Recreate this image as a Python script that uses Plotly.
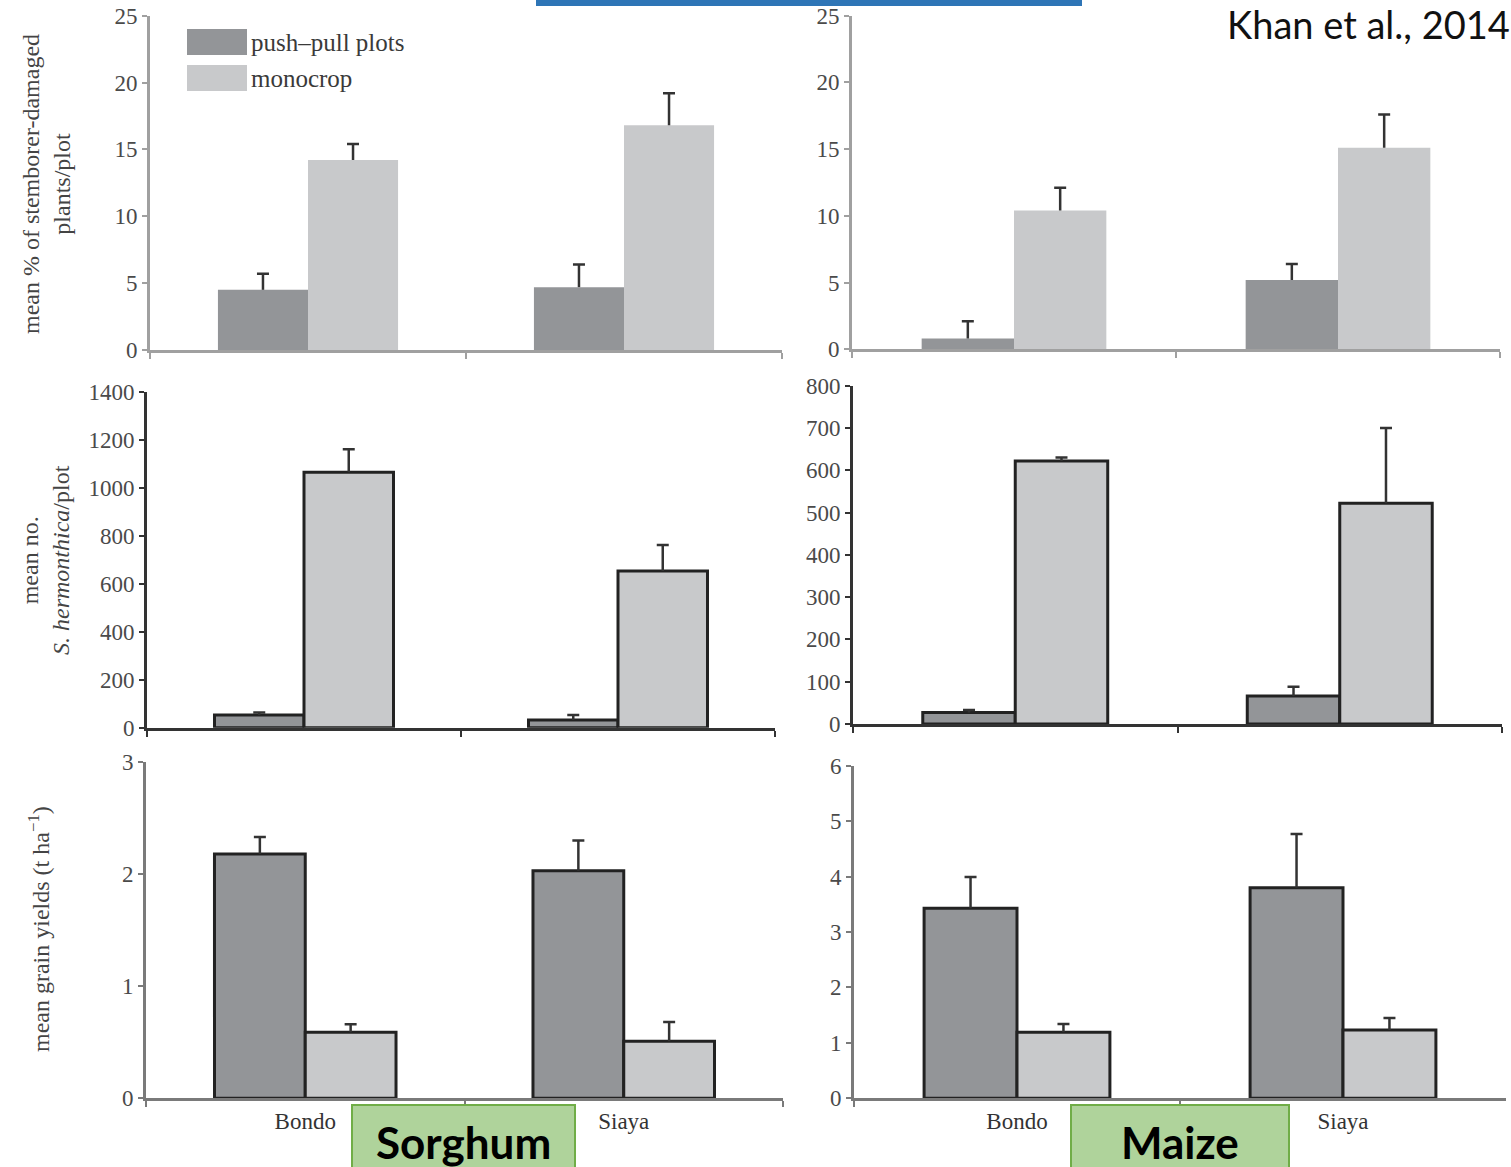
import plotly.graph_objects as go

W, H = 1511, 1167

sites = ["Bondo", "Siaya"]
series_names = ["push–pull plots", "monocrop"]

# Sorghum (left column)
sorg_damage_pp = [4.5, 4.7]
sorg_damage_pp_err = [1.2, 1.7]
sorg_damage_mono = [14.2, 16.8]
sorg_damage_mono_err = [1.2, 2.4]
sorg_striga_pp = [53, 32]
sorg_striga_pp_err = [10, 21]
sorg_striga_mono = [1065, 654]
sorg_striga_mono_err = [96, 108]
sorg_yield_pp = [2.18, 2.03]
sorg_yield_pp_err = [0.15, 0.27]
sorg_yield_mono = [0.59, 0.51]
sorg_yield_mono_err = [0.07, 0.17]

# Maize (right column)
maize_damage_pp = [0.8, 5.2]
maize_damage_pp_err = [1.3, 1.2]
maize_damage_mono = [10.4, 15.1]
maize_damage_mono_err = [1.7, 2.5]
maize_striga_pp = [27, 66]
maize_striga_pp_err = [6, 22]
maize_striga_mono = [622, 522]
maize_striga_mono_err = [8, 178]
maize_yield_pp = [3.43, 3.80]
maize_yield_pp_err = [0.56, 0.97]
maize_yield_mono = [1.19, 1.23]
maize_yield_mono_err = [0.15, 0.22]

y_titles = [
    "mean % of stemborer-damaged<br>plants/plot",
    "mean no.<br><i>S. hermonthica</i>/plot",
    "mean grain yields (t ha<sup>−1</sup>)",
]
crop_labels = ["Sorghum", "Maize"]
citation = "Khan et al., 2014"

PP_COLOR = "#939598"
MONO_COLOR = "#c8c9cb"
SERIF = "Liberation Serif, Times New Roman, serif"
SANS = "Lato, Open Sans, sans-serif"

# panel definitions: data + pixel geometry (x0, x1, ytop, ybottom)
panels = [
    dict(pp=sorg_damage_pp, ppe=sorg_damage_pp_err, mo=sorg_damage_mono, moe=sorg_damage_mono_err,
         ymax=25, dtick=5, box=(150, 782, 15.7, 350), outline=False, axc="#a0a0a0", labels=False),
    dict(pp=maize_damage_pp, ppe=maize_damage_pp_err, mo=maize_damage_mono, moe=maize_damage_mono_err,
         ymax=25, dtick=5, box=(852, 1500, 15.7, 349.3), outline=False, axc="#a0a0a0", labels=False),
    dict(pp=sorg_striga_pp, ppe=sorg_striga_pp_err, mo=sorg_striga_mono, moe=sorg_striga_mono_err,
         ymax=1400, dtick=200, box=(147, 775, 392, 727.7), outline=True, axc="#333333", labels=False),
    dict(pp=maize_striga_pp, ppe=maize_striga_pp_err, mo=maize_striga_mono, moe=maize_striga_mono_err,
         ymax=800, dtick=100, box=(853, 1502, 385.7, 724), outline=True, axc="#333333", labels=False),
    dict(pp=sorg_yield_pp, ppe=sorg_yield_pp_err, mo=sorg_yield_mono, moe=sorg_yield_mono_err,
         ymax=3, dtick=1, box=(146, 783, 762, 1098.3), outline=True, axc="#7a7a7a", labels=True),
    dict(pp=maize_yield_pp, ppe=maize_yield_pp_err, mo=maize_yield_mono, moe=maize_yield_mono_err,
         ymax=6, dtick=1, box=(854, 1506, 765.7, 1098.3), outline=True, axc="#7a7a7a", labels=True),
]

fig = go.Figure()
layout = {}

for i, p in enumerate(panels, start=1):
    xa = "x" if i == 1 else f"x{i}"
    ya = "y" if i == 1 else f"y{i}"
    line = dict(width=3, color="#222222") if p["outline"] else dict(width=0)
    for name, vals, errs, col, grp in [
        (series_names[0], p["pp"], p["ppe"], PP_COLOR, "pp"),
        (series_names[1], p["mo"], p["moe"], MONO_COLOR, "mo"),
    ]:
        # visible bar with error stem
        fig.add_trace(go.Bar(
            x=sites, y=vals, name=name, xaxis=xa, yaxis=ya, offsetgroup=grp,
            marker=dict(color=col, line=line), showlegend=False,
            error_y=dict(type="data", symmetric=False, array=errs, arrayminus=[0] * len(errs),
                         color="#333333", thickness=2.5, width=0),
        ))
        # invisible bar carrying only the cap at the top of the error bar
        fig.add_trace(go.Bar(
            x=sites, y=[v + e for v, e in zip(vals, errs)], xaxis=xa, yaxis=ya, offsetgroup=grp,
            marker=dict(color="rgba(0,0,0,0)", line=dict(width=0)), showlegend=False, hoverinfo="skip",
            error_y=dict(type="data", symmetric=False, array=[0] * len(errs), arrayminus=[0] * len(errs),
                         color="#333333", thickness=2.5, width=6),
        ))
    x0, x1, yt, yb = p["box"]
    layout["xaxis" if i == 1 else f"xaxis{i}"] = dict(
        domain=[x0 / W, x1 / W], anchor=ya, type="category", tickson="boundaries",
        ticks="outside", ticklen=6, tickwidth=2, tickcolor=p["axc"],
        showline=True, linecolor=p["axc"], linewidth=3, showgrid=False, zeroline=False,
        showticklabels=p["labels"], tickfont=dict(family=SERIF, size=23, color="#333333"),
        range=[-0.5, 1.5], fixedrange=True, automargin=False,
    )
    layout["yaxis" if i == 1 else f"yaxis{i}"] = dict(
        domain=[1 - yb / H, 1 - yt / H], anchor=xa, range=[0, p["ymax"]], dtick=p["dtick"],
        ticks="outside", ticklen=5, tickwidth=2, tickcolor=p["axc"],
        showline=True, linecolor=p["axc"], linewidth=3, showgrid=False, zeroline=False,
        tickfont=dict(family=SERIF, size=23, color="#4a4a4a"), fixedrange=True, automargin=False,
    )

annotations = []
# y-axis titles
for txt, (xc, yc) in zip(y_titles, [(46, 184), (46, 560), (39, 929)]):
    annotations.append(dict(
        text=txt, x=xc / W, y=1 - yc / H, xref="paper", yref="paper", textangle=-90,
        showarrow=False, xanchor="center", yanchor="middle",
        font=dict(family=SERIF, size=24, color="#444444"),
    ))

shapes = []
# legend (manual, in top-left panel)
for k, (name, col) in enumerate(zip(series_names, [PP_COLOR, MONO_COLOR])):
    ytop = 29 + 36 * k
    shapes.append(dict(type="rect", xref="paper", yref="paper",
                       x0=187 / W, x1=247 / W, y0=1 - (ytop + 26) / H, y1=1 - ytop / H,
                       fillcolor=col, line=dict(width=0)))
    annotations.append(dict(text=name, x=249 / W, y=1 - (ytop + 13) / H, xref="paper", yref="paper",
                            showarrow=False, xanchor="left", yanchor="middle",
                            font=dict(family=SERIF, size=25, color="#3a3a3a")))

# blue header strip
shapes.append(dict(type="rect", xref="paper", yref="paper", x0=536 / W, x1=1082 / W,
                   y0=1 - 6 / H, y1=1.01, fillcolor="#2e75b6", line=dict(width=0)))

# citation
annotations.append(dict(text=citation, x=1511 / W, y=1.0, xref="paper", yref="paper",
                        showarrow=False, xanchor="right", yanchor="top", borderpad=0,
                        font=dict(family=SANS, size=38, color="#111111")))

# crop label boxes
for label, (bx0, bx1) in zip(crop_labels, [(352, 575), (1071, 1289)]):
    shapes.append(dict(type="rect", xref="paper", yref="paper", x0=bx0 / W, x1=bx1 / W,
                       y0=-0.01, y1=1 - 1105 / H, fillcolor="#afd39b",
                       line=dict(width=2, color="#70ad47")))
    annotations.append(dict(text=f"<b>{label}</b>", x=(bx0 + bx1) / 2 / W, y=1 - 1142 / H,
                            xref="paper", yref="paper", showarrow=False,
                            xanchor="center", yanchor="middle",
                            font=dict(family=SANS, size=44, color="#000000")))

fig.update_layout(
    width=W, height=H, margin=dict(l=0, r=0, t=0, b=0, autoexpand=False),
    paper_bgcolor="white", plot_bgcolor="white",
    barmode="group", bargap=0.43, bargroupgap=0,
    showlegend=False, annotations=annotations, shapes=shapes,
    **layout,
)

fig.write_html("out.html")
